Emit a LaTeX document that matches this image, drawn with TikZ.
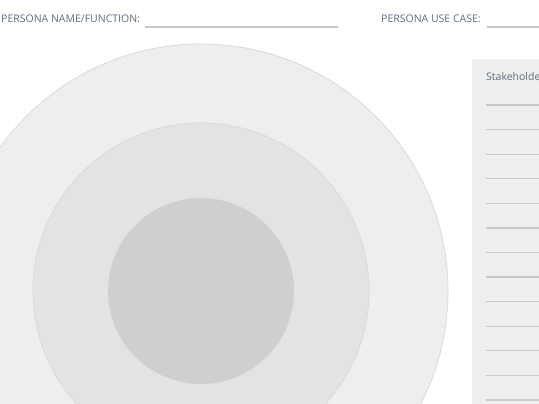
\documentclass[tikz,border=0pt]{standalone}
\usepackage{fontspec}
\setmainfont{Open Sans}
\definecolor{labeltext}{HTML}{5F6B7D}
\definecolor{ringouter}{HTML}{EEEEEE}
\definecolor{ringmid}{HTML}{E3E3E3}
\definecolor{ringinner}{HTML}{CFCFCF}
\definecolor{ringline}{HTML}{DADADA}
\definecolor{fieldline}{HTML}{C8C8C8}
\begin{document}
\begin{tikzpicture}[x=1pt,y=-1pt,
    fieldlabel/.style={anchor=west,inner sep=0pt,text=labeltext,font=\fontsize{10.5}{12}\selectfont},
    field/.style={draw=fieldline,line width=1.2pt}]
  \def\cx{201}
  \def\cy{291}

  \useasboundingbox (0,0) rectangle (539,404);
  \begin{scope}
    \clip (0,0) rectangle (539,404);

    % rings
    \filldraw[fill=ringouter,draw=ringline,line width=0.8pt] (\cx,\cy) circle (247);
    \filldraw[fill=ringmid,draw=ringline,line width=0.8pt] (\cx,\cy) circle (168);
    \fill[ringinner] (\cx,\cy) circle (93);

    % stakeholder panel
    \fill[ringouter] (472,59) rectangle (560,420);
    \node[fieldlabel] (stake) at (486,77) {Stakeholders};
    \foreach \i in {0,...,12} {
      \pgfmathsetmacro\yy{105+\i*24.58}
      \draw[field] (486,\yy) -- (560,\yy);
    }
  \end{scope}

  % header fields
  \node[fieldlabel] (name) at (1,19) {PERSONA NAME/FUNCTION:};
  \draw[field] (145,27) -- (338,27);
  \node[fieldlabel] (usecase) at (381,19) {PERSONA USE CASE:};
  \draw[field] (487,27) -- (539,27);
\end{tikzpicture}
\end{document}
